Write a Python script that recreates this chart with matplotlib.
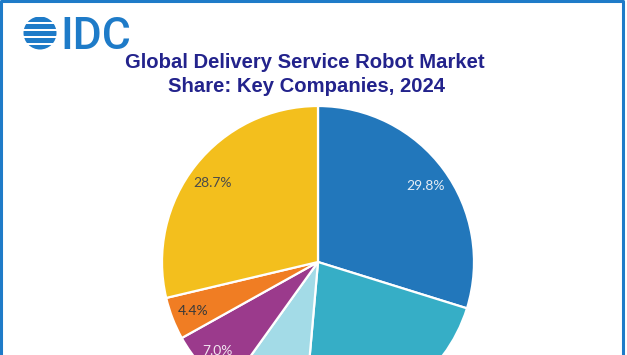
import matplotlib.pyplot as plt
from matplotlib.patches import Circle, Rectangle
from matplotlib.lines import Line2D

# market share, clockwise from 12 o'clock
shares = [29.8, 21.6, 8.5, 7.0, 4.4, 28.7]
colors = ['#2277bb', '#36aec6', '#a3dbe7', '#9b3a8c', '#f07d23', '#f3bf1d']
label_colors = ['#e6edf5', '#ffffff', '#404040', '#f2e6f0', '#3a3a3a', '#4a4a4a']
title_lines = ['Global Delivery Service Robot Market', 'Share: Key Companies, 2024']

W, H = 627, 355
cx, cy = 318, H - 262
fig = plt.figure(figsize=(W / 100, H / 100), dpi=100)
ax = fig.add_axes([0, 0, 1, 1])

wedges, texts, autotexts = ax.pie(
    shares, colors=colors, startangle=90, counterclock=False,
    radius=156, center=(cx, cy),
    autopct='%.1f%%', pctdistance=0.86,
    wedgeprops=dict(edgecolor='white', linewidth=1.6),
    textprops=dict(fontsize=10, family='Lato'),
)
for t, c in zip(autotexts, label_colors):
    t.set_color(c)
    x, y = t.get_position()
    if y > cy:
        t.set_position((x, y - 4))
    # labels of the lower slices fall below the cropped canvas
    if y < -5:
        t.set_visible(False)

ax.set_xlim(0, W)
ax.set_ylim(0, H)
ax.set_aspect('auto')
ax.axis('off')

# title
navy = '#23238c'
ax.text(305, H - 68, title_lines[0], ha='center', va='baseline', fontsize=14.6,
        fontweight='bold', color=navy, family='Liberation Sans')
ax.text(307, H - 92, title_lines[1], ha='center', va='baseline', fontsize=14.6,
        fontweight='bold', color=navy, family='Liberation Sans')

# IDC logo
logo_blue = '#1e7bc8'
globe = Circle((40, H - 33), 16.5, facecolor='none', edgecolor='none')
ax.add_patch(globe)
for i in range(5):
    y0 = H - 50 + i * 7
    bar = Rectangle((22, y0), 36, 5, facecolor=logo_blue, edgecolor='none')
    ax.add_patch(bar)
    bar.set_clip_path(globe)
ax.text(60, H - 49, 'IDC', ha='left', va='baseline', fontsize=32,
        fontweight='medium', color=logo_blue, family='Roboto')

# frame (top, left, right; bottom is cropped away)
frame = Line2D([1, 1, 623, 623], [0, H - 1, H - 1, 0], transform=None,
               color=logo_blue, linewidth=2.2)
fig.lines.append(frame)

fig.savefig('out.png', dpi=100)
